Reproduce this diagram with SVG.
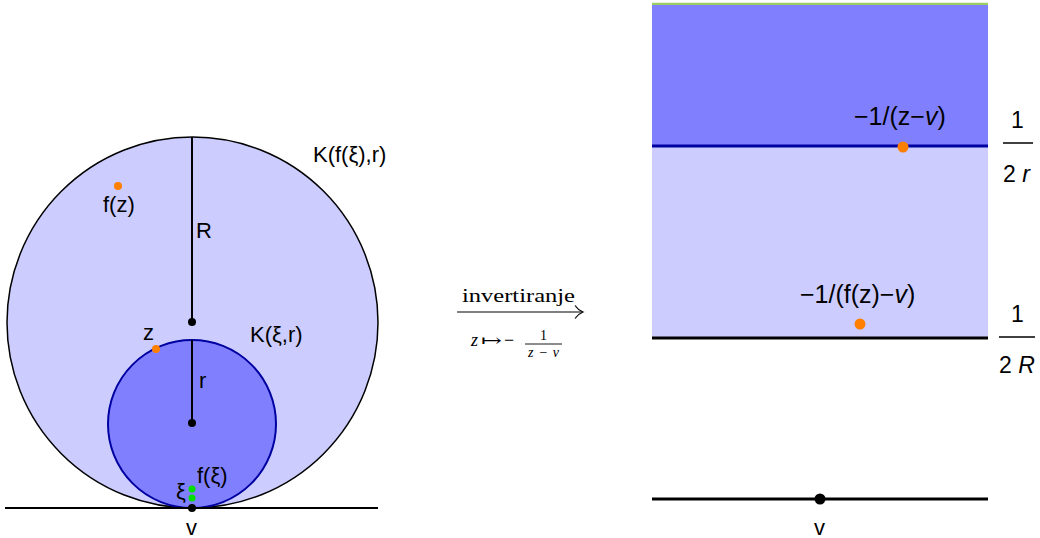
<svg xmlns="http://www.w3.org/2000/svg" width="1040" height="538" viewBox="0 0 1040 538">
<style>
.lbl{font-family:"Liberation Sans",Arial,sans-serif;font-size:22px;fill:#000}
.big{font-size:25px}
.frac{font-size:23px}
.ser{font-family:"Liberation Serif","DejaVu Serif","Times New Roman",serif;fill:#000}
.blk{stroke:#000;fill:none}
</style>
<rect width="1040" height="538" fill="#fff"/>
<g id="bigCircle">
<circle cx="192.5" cy="322.5" r="185.5" fill="#ccccff" stroke="#000" stroke-width="1.5"/>
</g>
<g id="smallCircle">
<circle cx="192" cy="424" r="84" fill="#8080ff" stroke="#0000a0" stroke-width="2"/>
</g>
<g id="connectors">
<line x1="192" y1="137" x2="192" y2="322" class="blk" stroke-width="2"/>
<line x1="192" y1="340" x2="192" y2="423" class="blk" stroke-width="2"/>
<line x1="5" y1="508" x2="378" y2="508" class="blk" stroke-width="2"/>
<line x1="652" y1="4" x2="988" y2="4" stroke="#9ccc66" stroke-width="2.5"/>
<line x1="457" y1="312" x2="582" y2="312" stroke="#000" stroke-width="1.2"/>
<path d="M575,305.5 Q578,310 583,312 Q578,314 575,318.5" fill="none" stroke="#000" stroke-width="1.2"/>
</g>
<g id="points">
<circle cx="192" cy="322" r="4" fill="#000"/>
<circle cx="192" cy="423" r="4" fill="#000"/>
<circle cx="192" cy="508" r="4" fill="#000"/>
<circle cx="192" cy="498" r="3.5" fill="#00e000"/>
<circle cx="192" cy="489" r="3.5" fill="#00e000"/>
<circle cx="156" cy="349" r="4" fill="#ff8000"/>
<circle cx="118" cy="186" r="4" fill="#ff8000"/>
</g>
<g id="leftLabels">
<text class="lbl" x="313" y="162">K(f(ξ),r)</text>
<text class="lbl" x="250" y="342">K(ξ,r)</text>
<text class="lbl" x="103" y="212">f(z)</text>
<text class="lbl" x="143" y="340">z</text>
<text class="lbl" x="196" y="238">R</text>
<text class="lbl" x="199" y="388">r</text>
<text class="lbl" x="197" y="483">f(ξ)</text>
<text class="lbl" x="176" y="499">ξ</text>
<text class="lbl" x="186" y="535">v</text>
</g>
<g id="arrowLabel">
<text class="ser" x="462" y="301.5" font-size="19" textLength="113" lengthAdjust="spacingAndGlyphs">invertiranje</text>
<text class="ser" x="471" y="346" font-size="18" font-style="italic">z</text>
<text class="ser" x="481" y="346" font-size="17" textLength="21" lengthAdjust="spacingAndGlyphs">↦</text>
<text class="ser" x="504" y="346" font-size="18">−</text>
<text class="ser" x="543.5" y="340" font-size="14" text-anchor="middle">1</text>
<line x1="525" y1="344" x2="562" y2="344" stroke="#000" stroke-width="0.9"/>
<text class="ser" x="528" y="357" font-size="14" font-style="italic" textLength="31" lengthAdjust="spacing">z−ν</text>
</g>
<g id="rightPlane">
<rect x="652" y="5" width="336" height="141" fill="#8080ff"/>
<rect x="652" y="146" width="336" height="192" fill="#ccccff"/>
<line x1="652" y1="146" x2="988" y2="146" stroke="#0000a0" stroke-width="3"/>
<line x1="652" y1="338" x2="988" y2="338" stroke="#000" stroke-width="3"/>
<line x1="652" y1="499" x2="988" y2="499" stroke="#000" stroke-width="3"/>
<circle cx="903" cy="147" r="5.5" fill="#ff8000"/>
<circle cx="860" cy="324" r="5.5" fill="#ff8000"/>
<circle cx="820" cy="499" r="5.5" fill="#000"/>
</g>
<g id="rightLabels">
<text class="lbl big" x="854" y="125">−1/(z−<tspan font-style="italic">v</tspan>)</text>
<text class="lbl big" x="800" y="303">−1/(f(z)−<tspan font-style="italic">v</tspan>)</text>
<text class="lbl" x="814" y="535">v</text>
<text class="lbl frac" x="1011" y="128">1</text>
<line x1="1003" y1="143" x2="1033" y2="143" stroke="#000" stroke-width="1.5"/>
<text class="lbl frac" x="1003" y="182">2 <tspan font-style="italic">r</tspan></text>
<text class="lbl frac" x="1011" y="322">1</text>
<line x1="999" y1="337" x2="1035" y2="337" stroke="#000" stroke-width="1.5"/>
<text class="lbl frac" x="999" y="373">2 <tspan font-style="italic">R</tspan></text>
</g>
</svg>
